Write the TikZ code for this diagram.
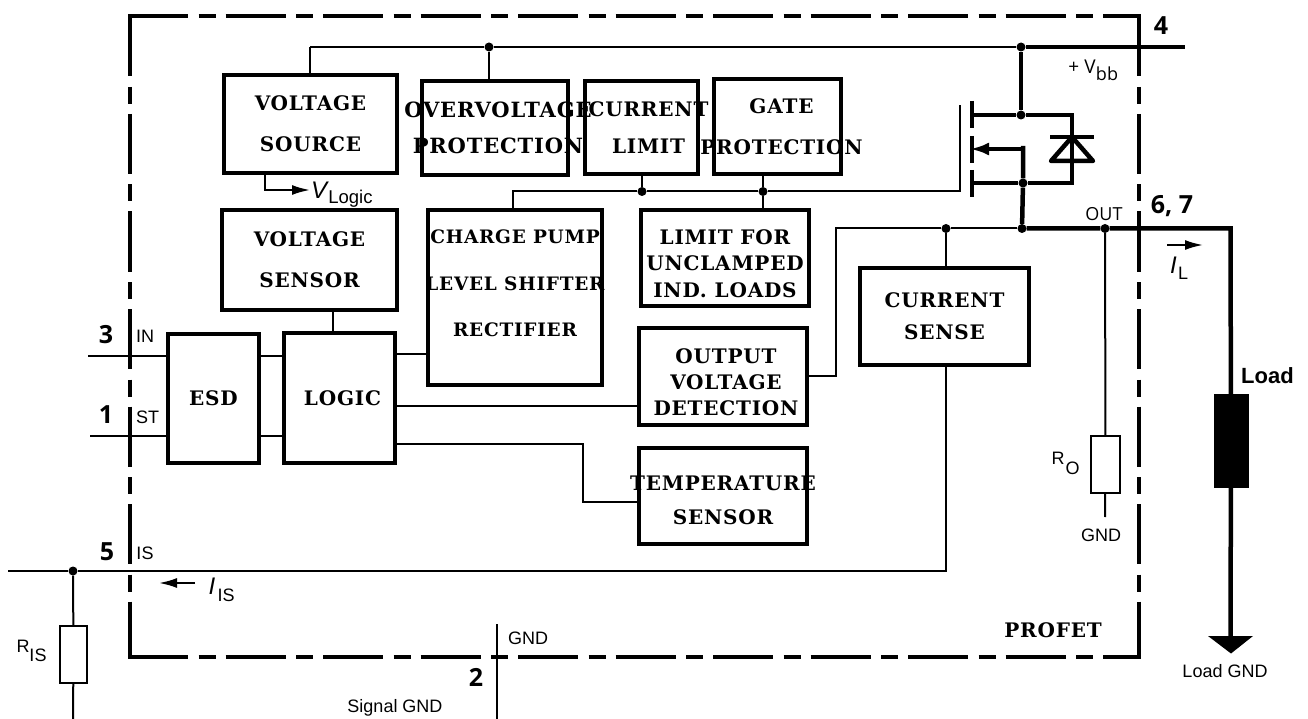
\documentclass[tikz,border=0pt]{standalone}
\usepackage{fontspec}
\setmainfont{Liberation Sans}
\newfontfamily\blockfont[LetterSpace=4]{DejaVu Serif}
\newfontfamily\pinfont{Open Sans}
\newcommand{\blkfont}[2][20]{\blockfont\bfseries\fontsize{#1}{#2}\selectfont}
\usetikzlibrary{arrows.meta}
\begin{document}
\begin{tikzpicture}
  [x=1pt,y=-1pt,
   blk/.style={draw,line width=4pt,rectangle,inner sep=0pt,outer sep=0pt},
   blktext/.style={font=\blkfont{41},align=center,inner sep=0pt},
   res/.style={draw,line width=2pt,fill=white,rectangle,inner sep=0pt,outer sep=0pt},
   dot/.style={circle,fill=black,inner sep=0pt,minimum size=9pt},
   wire/.style={line width=2pt},
   power/.style={line width=4.5pt},
   frame/.style={line width=4pt,dash pattern=on 60pt off 10.5pt on 17pt off 10pt},
   pin/.style={font=\pinfont\bfseries\fontsize{25}{25}\selectfont,inner sep=0pt},
   lbl/.style={font=\fontsize{18}{18}\selectfont,inner sep=0pt},
   sym/.style={font=\itshape\fontsize{24}{24}\selectfont,inner sep=0pt}]
  \useasboundingbox (0,0) rectangle (1308,719);

  % outer frame
  \draw[frame] (128,16.5) -- (1141,16.5) (129.5,16.5) -- (129.5,659)
               (128,657) -- (1141,657) (1138.5,16.5) -- (1138.5,659);

  % blocks
  \node[blk,minimum width=173pt,minimum height=98pt,label={[blktext]center:VOLTAGE\\SOURCE}] (vsource) at (310.5,124) {};
  \node[blk,minimum width=146pt,minimum height=94pt,label={[blktext,font={\blkfont[21]{36}},xshift=3pt]center:OVERVOLTAGE\\PROTECTION}] (ovprot) at (495,128) {};
  \node[blk,minimum width=113pt,minimum height=93pt,label={[blktext,font=\blkfont{37},xshift=7pt]center:CURRENT\\LIMIT}] (curlimit) at (641.5,127.5) {};
  \node[blk,minimum width=127pt,minimum height=95pt,label={[blktext,xshift=4pt]center:GATE\\PROTECTION}] (gateprot) at (777.5,126.5) {};
  \node[blk,minimum width=175pt,minimum height=100pt,label={[blktext]center:VOLTAGE\\SENSOR}] (vsensor) at (309.5,260) {};
  \node[blk,minimum width=174pt,minimum height=175pt,label={[blktext,font={\blkfont[18.5]{46.5}},yshift=14pt]center:CHARGE PUMP\\LEVEL SHIFTER\\RECTIFIER}] (pump) at (515,297.5) {};
  \node[blk,minimum width=168pt,minimum height=96pt,label={[blktext,font=\blkfont{26.5},yshift=-5.5pt]center:LIMIT FOR\\UNCLAMPED\\IND. LOADS}] (limit) at (725,258) {};
  \node[blk,minimum width=168pt,minimum height=97pt,label={[blktext,font=\blkfont{26},yshift=-5.5pt,xshift=3pt]center:OUTPUT\\VOLTAGE\\DETECTION}] (outdet) at (723,376.5) {};
  \node[blk,minimum width=168pt,minimum height=96pt,label={[blktext,font=\blkfont{34},yshift=-4pt]center:TEMPERATURE\\SENSOR}] (tempsens) at (723,496) {};
  \node[blk,minimum width=169pt,minimum height=97pt,label={[blktext,font=\blkfont{32}]center:CURRENT\\SENSE}] (cursense) at (944.5,316.5) {};
  \node[blk,minimum width=91pt,minimum height=129pt,label={[blktext]center:ESD}] (esd) at (213.5,398.5) {};
  \node[blk,minimum width=111pt,minimum height=130pt,label={[blktext,xshift=3pt]center:LOGIC}] (logic) at (339.5,398) {};

  % junctions
  \node[dot] (dtop) at (489,47) {};
  \node[dot] (dvbb) at (1021,47) {};
  \node[dot] (ddrain) at (1021,115) {};
  \node[dot] (dsource) at (1023,183) {};
  \node[dot] (dout) at (1022,228.5) {};
  \node[dot] (dsense) at (946,228.5) {};
  \node[dot] (dro) at (1105,228.5) {};
  \node[dot] (dcur) at (642,191.5) {};
  \node[dot] (dgate) at (763,191.5) {};
  \node[dot] (dris) at (73,571) {};

  % free ends
  \coordinate (pin4) at (1185,47);
  \coordinate (topleft) at (310,47);
  \coordinate (pin3) at (88,355.5);
  \coordinate (pin1) at (90,436);
  \coordinate (pin5) at (8,571);
  \coordinate (gnd2a) at (497,624);
  \coordinate (gnd2b) at (497,719);
  \coordinate (cornerL) at (1230.5,228.5);
  \coordinate (loadgnd) at (1230.5,638);
  \coordinate (gatetop) at (960,105);
  \coordinate (gatebot) at (960,191.5);
  \coordinate (senseend) at (946,571);
  \coordinate (vlogic) at (310,190);

  % resistors, load
  \node[res,minimum width=27pt,minimum height=57pt] (ris) at (73.5,654) {};
  \node[res,minimum width=29pt,minimum height=57pt] (ro) at (1105.5,464.5) {};
  \node[draw,fill=black,rectangle,inner sep=0pt,outer sep=0pt,minimum width=34pt,minimum height=93pt] (load) at (1231,440.5) {};

  % wiring
  \draw[wire] (topleft) -- (dtop) -- (dvbb);
  \draw[wire] (topleft) -- (vsource.north -| topleft);
  \draw[wire] (dtop) -- (ovprot.north -| dtop);
  \draw[power] (dvbb) -- (pin4);
  \draw[power] (dvbb) -- (ddrain);
  \draw[wire] (pump.north -| 513,0) |- (dcur);
  \draw[wire] (dcur) -- (dgate) -- (gatebot) -- (gatetop);
  \draw[wire] (dcur) -- (curlimit.south -| dcur);
  \draw[wire] (dgate) -- (gateprot.south -| dgate);
  \draw[wire] (dgate) -- (limit.north -| dgate);
  \draw[wire,-{Latex[length=18pt,width=10pt]}] (vsource.south -| 265,0) |- (vlogic);
  \draw[wire] (vsensor.south -| 333,0) -- (logic.north -| 333,0);
  \draw[wire] (pin3) -- (pin3 -| esd.west);
  \draw[wire] (pin1) -- (pin1 -| esd.west);
  \draw[wire] (esd.east |- pin3) -- (logic.west |- pin3);
  \draw[wire] (esd.east |- pin1) -- (logic.west |- pin1);
  \draw[wire] (logic.east |- 0,354) -- (pump.west |- 0,354);
  \draw[wire] (logic.east |- 0,406) -- (outdet.west |- 0,406);
  \draw[wire] (logic.east |- 0,444) -| (583,502) -- (tempsens.west |- 0,502);
  \draw[wire] (outdet.east |- 0,376) -| (836,228.5) -- (dsense);
  \draw[wire] (dsense) -- (dout);
  \draw[wire] (dsense) -- (cursense.north -| dsense);
  \draw[wire] (cursense.south -| senseend) -- (senseend) -- (dris) -- (pin5);
  \draw[wire] (dris) -- (ris);
  \draw[wire] (ris) -- (73,719);
  \draw[wire] (dro) -- (ro);
  \draw[wire] (ro) -- (1105,517);
  \draw[wire] (gnd2a) -- (gnd2b);
  \draw[power] (dout) -- (dro) -- (cornerL) -- (load);
  \draw[power] (load) -- (loadgnd);
  \fill (1208,636) -- (1253,636) -- (1231,653.5) -- cycle;

  % mosfet
  \draw[power] (1023,146) -- (dsource) -- (dout);
  \draw[power] (972,115) -- (ddrain) -- (1072,115) -- (1072,183) -- (dsource) -- (972,183);
  \draw[line width=4pt] (972,101) -- (972,128);
  \draw[line width=4pt] (972,136) -- (972,163);
  \draw[line width=4pt] (972,170) -- (972,197);
  \draw[power,-{Latex[length=19pt,width=13pt]}] (1023,149) -- (970,149);
  \draw[power] (1050,137) -- (1094,137);
  \draw[power,line join=round] (1072,137) -- (1051,161) -- (1093,161) -- cycle;

  % current arrows
  \draw[wire,-{Latex[length=18pt,width=10pt]}] (1167,245) -- (1203,245);
  \draw[wire,-{Latex[length=18pt,width=10pt]}] (195,583) -- (159,583);

  % texts
  \node[pin] (n4) at (1161,26) {4};
  \node[pin] (n67) at (1172,206) {6, 7};
  \node[pin] (n3) at (106,335) {3};
  \node[pin] (n1) at (106,415) {1};
  \node[pin] (n5) at (107,552) {5};
  \node[pin] (n2) at (476,677) {2};
  \node[lbl] (tin) at (145,336) {IN};
  \node[lbl] (tst) at (147.5,417) {ST};
  \node[lbl] (tis) at (145,553) {IS};
  \node[lbl] (tgnd) at (528,638) {GND};
  \node[lbl] (tsig) at (395,708) {Signal GND};
  \node[font=\pinfont\fontsize{18}{18}\selectfont,inner sep=0pt] (tout) at (1104,214) {OUT};
  \node[lbl] (tgndo) at (1101,535) {GND};
  \node[lbl] (tloadgnd) at (1225,671) {Load GND};
  \node[font=\bfseries\fontsize{22}{22}\selectfont,inner sep=0pt] (tload) at (1267.5,375.5) {Load};
  \node[font=\pinfont\fontsize{19}{19}\selectfont,inner sep=0pt] (tvbb) at (1082,67) {+ V};
  \node[font=\pinfont\fontsize{18}{18}\selectfont,inner sep=0pt] (tbb) at (1107,74) {bb};
  \node[sym] (tvl) at (319,190) {V};
  \node[lbl,font=\fontsize{18.5}{18.5}\selectfont] (tlogic) at (350.5,199) {Logic};
  \node[sym] (til) at (1173.5,265) {I};
  \node[lbl] (tl) at (1183,273) {L};
  \node[sym] (tiis) at (212,586) {I};
  \node[lbl] (tiiss) at (226,595) {IS};
  \node[lbl] (trr) at (23,646) {R};
  \node[lbl] (trs) at (38,655) {IS};
  \node[lbl] (tro) at (1058,458) {R};
  \node[lbl] (troo) at (1072.5,468) {O};
  \node[font=\blkfont{20},inner sep=0pt] (tprofet) at (1053,630) {PROFET};
\end{tikzpicture}
\end{document}
